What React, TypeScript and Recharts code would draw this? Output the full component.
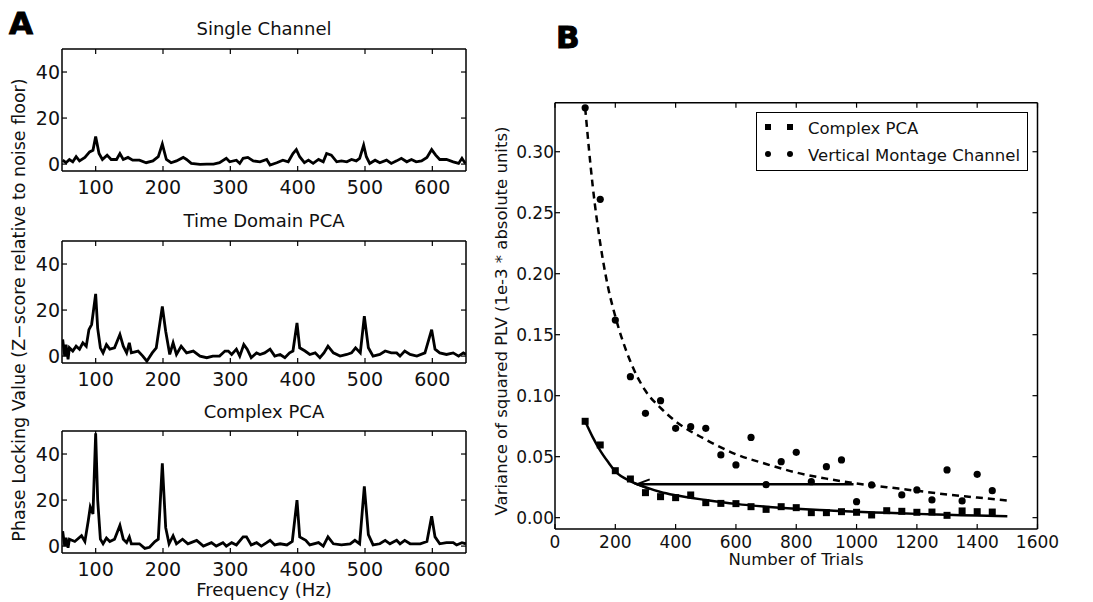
import React from 'react'
import { LineChart, ComposedChart, Line, Scatter, XAxis, YAxis } from 'recharts'

// ---- Panel A: spectra (Hz vs z-score) ----
const freqTicks = [100, 200, 300, 400, 500, 600]
const zTicks = [0, 20, 40]

const singleFreq = [51, 56, 61, 66, 71, 76, 84, 91, 96, 100, 105, 110, 117, 123, 131, 136, 141, 148, 155, 165, 175, 185, 193, 199, 205, 212, 220, 230, 235, 242, 255, 265, 275, 284, 294, 299, 309, 314, 319, 326, 334, 344, 354, 359, 369, 378, 386, 393, 398, 403, 410, 416, 423, 431, 438, 443, 450, 458, 465, 473, 480, 487, 492, 498, 502, 507, 515, 522, 532, 539, 547, 554, 562, 569, 576, 584, 592, 599, 605, 611, 621, 631, 639, 644, 649]
const singleZ = [1.7, 0.6, 2, 1, 3.2, 1.4, 2.9, 5.3, 6, 12, 4.6, 2, 3.9, 2, 2, 4.6, 2, 2.9, 1.7, 1.7, 0.6, 1.4, 3.2, 8.7, 2, 0.6, 1.4, 2.9, 2, 0.3, -0.1, 0, 0, 0.6, 2.5, 1, 1.7, 0.3, 2.5, 2.9, 1.4, 1, 2, -0.4, 0.6, 1.7, 1, 4.6, 6.3, 3.2, 0.6, 1.7, 0.3, 2, 1, 4.6, 3.9, 1, 1.4, 1, 2, 1.4, 2.5, 8.2, 3.2, 0.3, 1.7, 0.6, 1.7, 0.3, 1.4, 2.5, 1, 2, 1, 1.4, 2.9, 6.3, 3.9, 2, 2, 1, 0.3, 2.5, 0.3]

const timeFreq = [51, 54, 56, 59, 61, 66, 71, 76, 81, 86, 90, 94, 100, 103, 107, 111, 116, 121, 128, 136, 141, 146, 150, 153, 163, 170, 176, 184, 190, 199, 204, 210, 215, 220, 227, 235, 245, 255, 265, 274, 284, 292, 297, 302, 309, 314, 320, 325, 331, 339, 344, 351, 359, 366, 374, 381, 388, 393, 399, 403, 411, 418, 426, 433, 439, 445, 453, 463, 473, 480, 486, 493, 499, 505, 512, 522, 530, 539, 547, 552, 559, 567, 577, 589, 599, 604, 611, 621, 631, 639, 646, 650]
const timeZ = [7.2, 0, 5, -1.4, 3.6, 2.2, 4.3, 3, 5.8, 4.3, 11.5, 13.7, 27, 12, 3.6, 1.4, 5, 3, 3.6, 9.4, 4.3, 1.4, 5.8, 1.4, 2.2, 0, -2.2, 1.4, 3.6, 21.6, 10.8, 0.7, 5.8, 0.7, 4.3, 1.4, 2.2, 0, -0.7, 0, 0, 2.2, 2.2, 0.7, 3, 0, 5, 3, -0.7, 1.4, 0.7, 1.4, 3, 0, 0.7, -0.7, 1.4, 2.2, 14.4, 3.6, 2.2, 0.7, 1.4, -0.7, 1.4, 4.3, 1.4, 0, 0.7, 1.4, 3.6, 1.4, 17.3, 3.6, 0, 0.7, 2.2, 1.4, 1.4, 0, 2.2, 0.7, 0, 1.4, 11.5, 3, 1.4, 0.7, 1.4, 0, 1.4, 0.7]

const complexFreq = [51, 54, 56, 59, 61, 69, 79, 84, 89, 92, 96, 100, 103, 107, 111, 116, 121, 128, 136, 141, 146, 150, 153, 165, 173, 180, 188, 193, 199, 204, 209, 215, 220, 229, 237, 250, 260, 272, 279, 289, 294, 302, 309, 319, 324, 331, 339, 346, 354, 359, 366, 374, 384, 392, 399, 403, 412, 418, 431, 438, 445, 453, 465, 478, 485, 492, 499, 505, 512, 522, 530, 537, 547, 552, 559, 567, 582, 592, 599, 604, 611, 621, 631, 636, 644, 650]
const complexZ = [6.5, 0, 3.6, -0.7, 3, 2, 4.5, 2, 11, 17, 14, 49, 20, 3, 1, 3.5, 2, 3, 9, 3, 1.5, 4, 1, 1, -1, -0.5, 2, 3, 36, 8, 1, 4.5, 1, 3, 1, 2.5, 0, 1.5, 0, 1.5, 0, 1.5, 0.5, 4, 4, 0.5, 1.5, 0, 1.5, 2.5, 0.5, 1, 0.5, 2, 20, 4, 2.5, 0.5, 1.5, 0, 4, 1, 0.5, 1, 2.5, 1, 26, 5, 0.5, 1, 2.5, 1, 2.5, 1, 2.5, 1, 1, 2, 13, 4, 1, 1.5, 1.5, 0.5, 1.5, 1]

// ---- Panel B: variance vs number of trials ----
const trialTicks = [0, 200, 400, 600, 800, 1000, 1200, 1400, 1600]
const varTicks = [0, 0.05, 0.1, 0.15, 0.2, 0.25, 0.3]

const trials = [100, 150, 200, 250, 300, 350, 400, 450, 500, 550, 600, 650, 700, 750, 800, 850, 900, 950, 1000, 1050, 1100, 1150, 1200, 1250, 1300, 1350, 1400, 1450]
const pcaVar = [0.079, 0.0596, 0.0385, 0.0317, 0.0205, 0.0172, 0.0164, 0.0186, 0.0123, 0.0117, 0.0115, 0.009, 0.0068, 0.009, 0.0082, 0.0041, 0.0041, 0.0049, 0.0044, 0.0022, 0.0057, 0.0052, 0.0044, 0.0046, 0.0019, 0.0055, 0.0049, 0.0046]
const montageVar = [0.336, 0.261, 0.162, 0.1156, 0.0855, 0.0959, 0.0732, 0.0746, 0.0732, 0.0514, 0.0432, 0.0658, 0.027, 0.0459, 0.0536, 0.0295, 0.0418, 0.0473, 0.0131, 0.0268, null, 0.0186, 0.0227, 0.0145, 0.0391, 0.0137, 0.0355, 0.0221]

const fitTrials = [100, 125, 150, 175, 200, 250, 300, 350, 400, 500, 600, 700, 800, 900, 1000, 1100, 1200, 1300, 1400, 1500]
const pcaFit = [0.079, 0.066, 0.055, 0.046, 0.038, 0.03, 0.025, 0.021, 0.0183, 0.0145, 0.0113, 0.009, 0.0073, 0.006, 0.0048, 0.004, 0.0031, 0.0024, 0.0017, 0.0012]
const montageFit = [0.336, 0.272, 0.225, 0.19, 0.165, 0.128, 0.104, 0.09, 0.079, 0.064, 0.052, 0.044, 0.037, 0.032, 0.028, 0.025, 0.022, 0.019, 0.0165, 0.014]

const arrowTrials = [271, 990]
const arrowLevel = 0.0273

const FONT = '"DejaVu Sans", sans-serif'
const INK = '#111'

const axisLine = { stroke: '#000', strokeWidth: 1.5 }

// matplotlib-style ticks: short marks pointing into the plot, labels outside
type Side = 'bottom' | 'left' | 'top' | 'right'
function makeTick(side: Side, gap = 0, fontSize = 18, fmt?: (v: number) => string) {
  return (p: any) => {
    const { x, y, payload } = p
    const label = fmt ? fmt(payload.value) : String(payload.value)
    const mark = { stroke: '#000', strokeWidth: 1.2 }
    if (side === 'bottom') {
      const ay = y - gap
      return (
        <g>
          <line x1={x} x2={x} y1={ay} y2={ay - 5} {...mark} />
          <text x={x} y={y} dy="0.71em" textAnchor="middle" fontSize={fontSize} fill={INK}>{label}</text>
        </g>
      )
    }
    if (side === 'left') {
      const ax = x + gap
      return (
        <g>
          <line x1={ax} x2={ax + 5} y1={y} y2={y} {...mark} />
          <text x={x} y={y} dy="0.355em" textAnchor="end" fontSize={fontSize} fill={INK}>{label}</text>
        </g>
      )
    }
    if (side === 'top') return <line x1={x} x2={x} y1={y} y2={y + 5} {...mark} />
    return <line x1={x - 5} x2={x} y1={y} y2={y} {...mark} />
  }
}

function SpectrumPanel({ top, freq, z }: { top: number; freq: number[]; z: number[] }) {
  const data = freq.map((f, i) => ({ f, z: z[i] }))
  return (
    <div style={{ position: 'absolute', left: 0, top: top - 10 }}>
      <LineChart width={480} height={162} data={data} margin={{ top: 9, right: 13, bottom: 0, left: 22 }}>
        <XAxis dataKey="f" type="number" domain={[50, 650]} ticks={freqTicks} allowDataOverflow
          height={30} tickSize={0} tickMargin={10} axisLine={axisLine} tickLine={false}
          tick={makeTick('bottom', 10, 19)} />
        <XAxis xAxisId="top" orientation="top" dataKey="f" type="number" domain={[50, 650]} ticks={freqTicks}
          allowDataOverflow height={1} tickSize={0} tickMargin={0} axisLine={axisLine} tickLine={false}
          tick={makeTick('top')} />
        <YAxis type="number" domain={[-3, 50]} ticks={zTicks} allowDataOverflow width={40} tickSize={0}
          tickMargin={2} axisLine={axisLine} tickLine={false} tick={makeTick('left', 2, 19)} />
        <YAxis yAxisId="right" orientation="right" type="number" domain={[-3, 50]} ticks={zTicks}
          allowDataOverflow width={1} tickSize={0} tickMargin={0} axisLine={axisLine} tickLine={false}
          tick={makeTick('right')} />
        <Line dataKey="z" type="linear" stroke="#000" strokeWidth={2.8} dot={false} isAnimationActive={false} />
      </LineChart>
    </div>
  )
}

const squareShape = (p: any) => <rect x={p.cx - 3.5} y={p.cy - 3.5} width={7} height={7} fill="#000" />
const circleShape = (p: any) => <circle cx={p.cx} cy={p.cy} r={3.6} fill="#000" />

const arrowHead = (p: any) =>
  p.index === 0 ? (
    <path key="head" d={`M ${p.cx + 13} ${p.cy - 5} L ${p.cx} ${p.cy} L ${p.cx + 13} ${p.cy + 5}`}
      stroke="#000" strokeWidth={2} fill="none" />
  ) : (
    <g key={`d${p.index}`} />
  )

function TrialsPanel() {
  const pcaPts = trials.map((x, i) => ({ x, y: pcaVar[i] }))
  const montagePts = trials
    .map((x, i) => ({ x, y: montageVar[i] }))
    .filter((d) => d.y !== null)
  const pcaCurve = fitTrials.map((x, i) => ({ x, y: pcaFit[i] }))
  const montageCurve = fitTrials.map((x, i) => ({ x, y: montageFit[i] }))
  const arrow = arrowTrials.map((x) => ({ x, y: arrowLevel }))
  const fmt = (v: number) => v.toFixed(2)
  return (
    <div style={{ position: 'absolute', left: 490, top: 95 }}>
      <ComposedChart width={580} height={470} margin={{ top: 6.7, right: 31.5, bottom: 6, left: 0 }}>
        <XAxis dataKey="x" type="number" domain={[0, 1600]} ticks={trialTicks} allowDataOverflow
          height={30} tickSize={0} tickMargin={6.5} axisLine={axisLine} tickLine={false}
          tick={makeTick('bottom', 6.5, 17)} />
        <XAxis xAxisId="top" orientation="top" dataKey="x" type="number" domain={[0, 1600]} ticks={trialTicks}
          allowDataOverflow height={1} tickSize={0} tickMargin={0} axisLine={axisLine} tickLine={false}
          tick={makeTick('top')} />
        <YAxis dataKey="y" type="number" domain={[-0.0093, 0.3402]} ticks={varTicks} allowDataOverflow
          width={65} tickSize={0} tickMargin={1} axisLine={axisLine} tickLine={false}
          tick={makeTick('left', 1, 17, fmt)} />
        <YAxis yAxisId="right" orientation="right" type="number" domain={[-0.0093, 0.3402]} ticks={varTicks}
          allowDataOverflow width={1} tickSize={0} tickMargin={0} axisLine={axisLine} tickLine={false}
          tick={makeTick('right')} />
        <Line data={montageCurve} dataKey="y" type="monotone" stroke="#000" strokeWidth={2.5}
          strokeDasharray="7 5" dot={false} isAnimationActive={false} />
        <Line data={pcaCurve} dataKey="y" type="monotone" stroke="#000" strokeWidth={2.5}
          dot={false} isAnimationActive={false} />
        <Line data={arrow} dataKey="y" type="linear" stroke="#000" strokeWidth={2.5}
          dot={arrowHead} isAnimationActive={false} />
        <Scatter data={pcaPts} dataKey="y" shape={squareShape} isAnimationActive={false} />
        <Scatter data={montagePts} dataKey="y" shape={circleShape} isAnimationActive={false} />
      </ComposedChart>
      <div style={{ position: 'absolute', left: 266, top: 16.7, width: 270, height: 57,
        border: '1.5px solid #000', background: '#fff' }}>
        <svg width={270} height={57} style={{ fontFamily: FONT }}>
          <rect x={8} y={11} width={6} height={6} fill="#000" />
          <rect x={30} y={11} width={6} height={6} fill="#000" />
          <text x={51} y={20.5} fontSize={16.5} fill={INK}>Complex PCA</text>
          <circle cx={11} cy={41} r={3} fill="#000" />
          <circle cx={33} cy={41} r={3} fill="#000" />
          <text x={51} y={48} fontSize={16.5} fill={INK}>Vertical Montage Channel</text>
        </svg>
      </div>
    </div>
  )
}

export default function App() {
  return (
    <div style={{ position: 'absolute', left: 0, top: 0, width: 1093, height: 602, background: '#fff',
      fontFamily: FONT, overflow: 'hidden' }}>
      <SpectrumPanel top={49} freq={singleFreq} z={singleZ} />
      <SpectrumPanel top={241} freq={timeFreq} z={timeZ} />
      <SpectrumPanel top={431} freq={complexFreq} z={complexZ} />
      <TrialsPanel />
      <svg width={1093} height={602} style={{ position: 'absolute', left: 0, top: 0, pointerEvents: 'none' }}>
        <g fontFamily={FONT} fill={INK}>
          <text x={9} y={34} fontSize={31} fontWeight={900} fill="#000" stroke="#000" strokeWidth={1}>A</text>
          <text x={556} y={48} fontSize={31} fontWeight={900} fill="#000" stroke="#000" strokeWidth={1}>B</text>
          <text x={264} y={35} fontSize={18} textAnchor="middle">Single Channel</text>
          <text x={264} y={226.5} fontSize={18} textAnchor="middle">Time Domain PCA</text>
          <text x={264} y={417.5} fontSize={18} textAnchor="middle">Complex PCA</text>
          <text x={264} y={596} fontSize={18} textAnchor="middle">Frequency (Hz)</text>
          <text x={25} y={310} fontSize={17.5} textAnchor="middle" transform="rotate(-90 25 310)">
            Phase Locking Value (Z−score relative to noise floor)
          </text>
          <text x={796} y={565} fontSize={16.5} textAnchor="middle">Number of Trials</text>
          <text x={507} y={321} fontSize={16.5} textAnchor="middle" transform="rotate(-90 507 321)">
            Variance of squared PLV (1e-3 * absolute units)
          </text>
        </g>
      </svg>
    </div>
  )
}
